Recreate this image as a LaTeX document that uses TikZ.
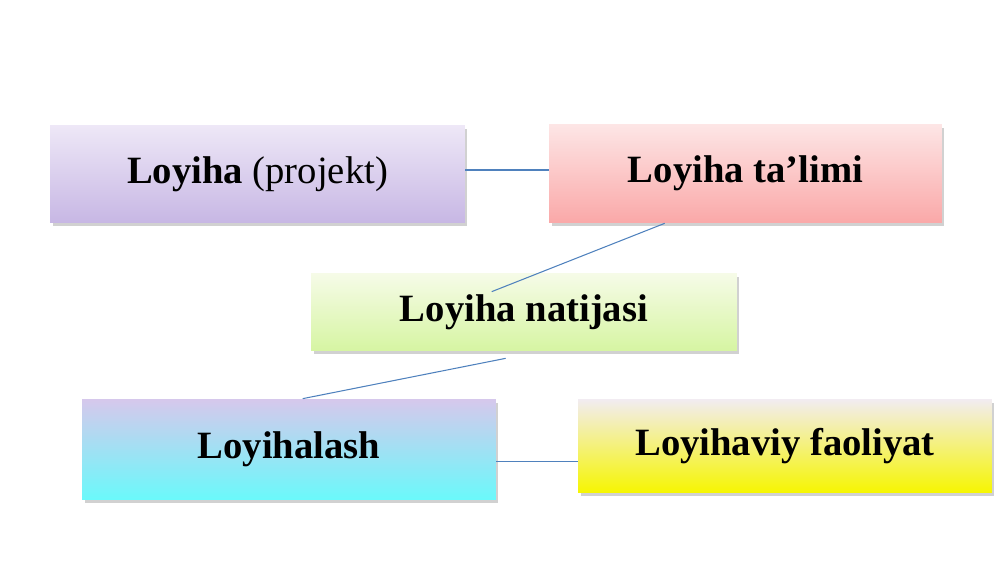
\documentclass[tikz,border=0pt]{standalone}
\usepackage{fontspec}
\setmainfont{Liberation Serif}
\usetikzlibrary{calc,shadows}
\definecolor{linkblue}{RGB}{79,129,189}
\tikzset{
  card/.style={inner sep=0pt, font=\fontsize{22}{26}\selectfont\bfseries,
    drop shadow={shadow xshift=0.05cm, shadow yshift=-0.07cm, opacity=0.3, fill=black!60}},
  link/.style={draw=linkblue, line width=0.6pt}
}
\begin{document}
\begin{tikzpicture}[x=0.02cm,y=-0.02cm]
	\useasboundingbox (0,0) rectangle (1000,563);

	\node[card, minimum width=8.3cm, minimum height=1.96cm,
		top color={rgb,255:red,238;green,232;blue,247}, bottom color={rgb,255:red,199;green,183;blue,228}]
		(proj) at (257.5,174) {Loyiha \mdseries(projekt)};
	\node[card, minimum width=7.86cm, minimum height=1.98cm,
		top color={rgb,255:red,253;green,230;blue,230}, bottom color={rgb,255:red,250;green,168;blue,168}]
		(talim) at (745.5,173.5) {Loyiha ta’limi};
	\node[card, minimum width=8.52cm, minimum height=1.56cm,
		top color={rgb,255:red,246;green,251;blue,232}, bottom color={rgb,255:red,214;green,245;blue,162}]
		(natija) at (524,312) {Loyiha natijasi};
	\node[card, minimum width=8.28cm, minimum height=2.02cm,
		top color={rgb,255:red,214;green,200;blue,236}, bottom color={rgb,255:red,106;green,249;blue,251}]
		(loyihalash) at (289,449.5) {Loyihalash};
	\node[card, minimum width=8.28cm, minimum height=1.88cm,
		top color={rgb,255:red,242;green,236;blue,242}, middle color={rgb,255:red,246;green,244;blue,110},
		bottom color={rgb,255:red,246;green,246;blue,0}]
		(faoliyat) at (785,446) {Loyihaviy faoliyat};

	\coordinate (c1) at ($(talim.south west)+(116,0)$);
	\coordinate (c2) at ($(natija.north west)+(181,19)$);
	\coordinate (c3) at ($(natija.south west)+(195,7)$);
	\coordinate (c4) at ($(loyihalash.north west)+(221,0)$);

	\draw[link] ($(proj.east)+(0,-4)$) -- ($(talim.west)+(0,-3.5)$);
	\draw[link] (c1) -- (c2);
	\draw[link] (c3) -- (c4);
	\draw[link] ($(loyihalash.east)+(0,12)$) -- ($(faoliyat.west)+(0,15.5)$);
\end{tikzpicture}
\end{document}
